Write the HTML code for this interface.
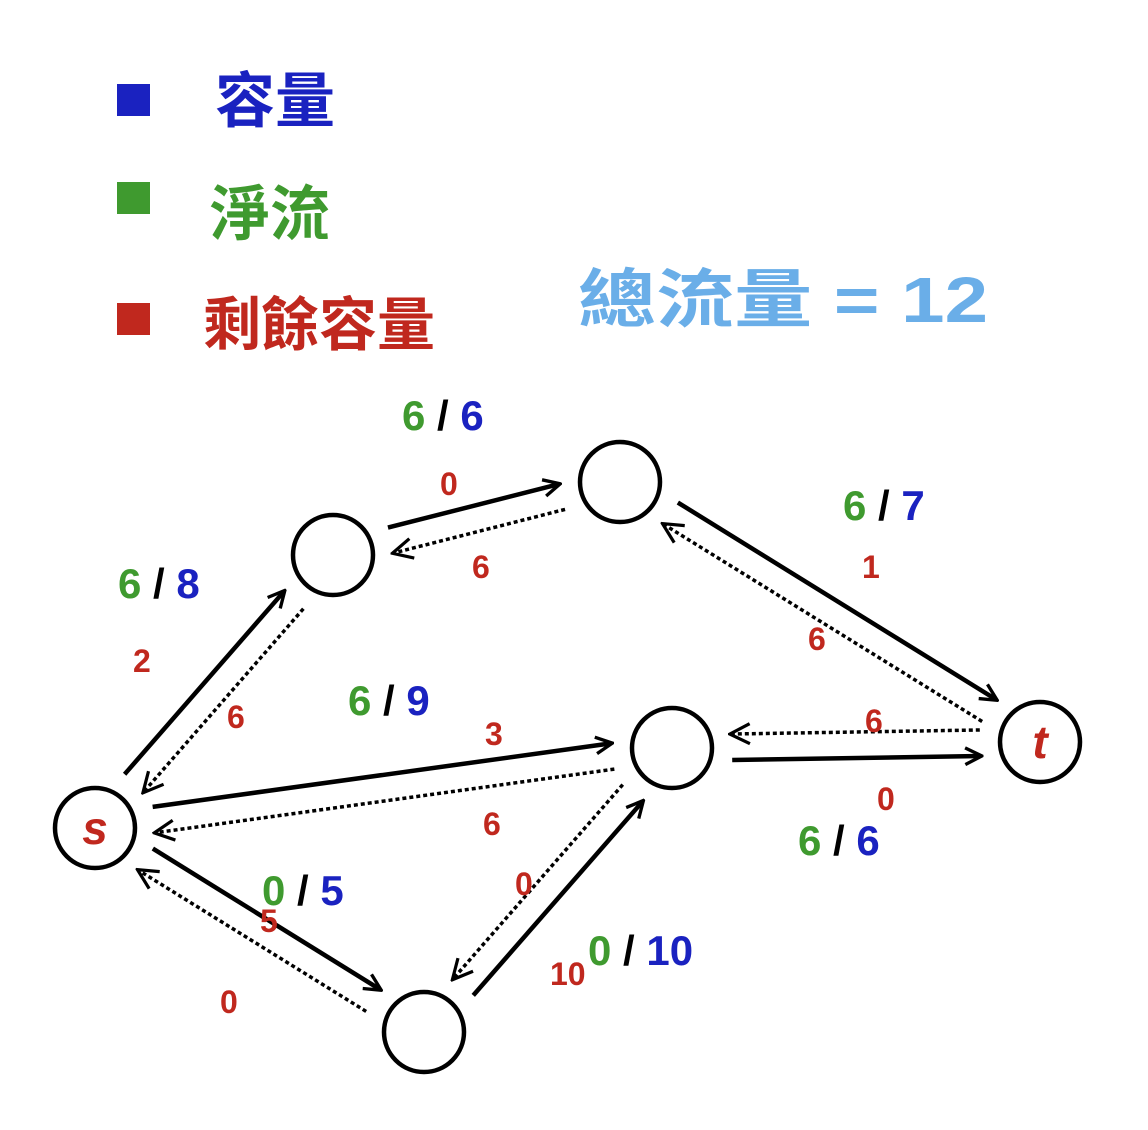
<!DOCTYPE html>
<html><head><meta charset="utf-8"><style>
html,body{margin:0;padding:0;background:#fff;width:1148px;height:1130px;overflow:hidden}
svg text{font-family:"Liberation Sans","Noto Sans CJK TC",sans-serif;font-weight:bold}
</style></head><body>
<svg id="chart" width="1148" height="1130" viewBox="0 0 1148 1130">
<defs>
<marker id="ah" viewBox="0 0 12 12" refX="10" refY="6" markerWidth="20" markerHeight="20" markerUnits="userSpaceOnUse" orient="auto"><path d="M1,1 L11,6 L1,11" fill="none" stroke="#000" stroke-width="2"/></marker>
<marker id="ahs" viewBox="0 0 12 12" refX="10" refY="6" markerWidth="24" markerHeight="24" markerUnits="userSpaceOnUse" orient="auto"><path d="M1,1 L11,6 L1,11" fill="none" stroke="#000" stroke-width="1.6"/></marker>
</defs>
<g>
<rect x="117" y="84" width="33" height="32" fill="#1a22c0"/>
<text x="215" y="122" font-size="60" fill="#1a22c0">容量</text>
<rect x="117" y="182" width="33" height="32" fill="#3f9a2f"/>
<text x="210" y="235" font-size="60" fill="#3f9a2f">淨流</text>
<rect x="117" y="303" width="33" height="32" fill="#c0281e"/>
<text x="203" y="345" font-size="58" fill="#c0281e">剩餘容量</text>
</g>
<text x="578" y="322" font-size="64" fill="#6aaee8" textLength="410" lengthAdjust="spacingAndGlyphs">總流量 = 12</text>
<g id="edges"></g>
<g id="nodes"></g>
<g id="labels"></g>
<script>
const nodeIds=["s","a","b","c","t","d"];
const edgeFrom=["s","a","b","s","c","s","d"];
const edgeTo=["a","b","t","c","t","d","c"];
const edgeFlow=[6,6,6,6,6,0,0];
const edgeCap=[8,6,7,9,6,5,10];
const NS="http://www.w3.org/2000/svg";
const pos={s:[95,828],a:[333,555],b:[620,482],c:[672,748],t:[1040,742],d:[424,1032]};
const R=40;
// layout-only: side of solid line and label anchor positions
const side=[1,1,1,1,-1,1,-1];
const labPos=[[118,598],[402,430],[843,520],[348,715],[798,855],[262,905],[588,965]];
const fwdPos=[[133,672],[440,495],[862,578],[485,745],[877,810],[260,932],[550,985]];
const bwdPos=[[227,728],[472,578],[808,650],[483,835],[865,732],[220,1013],[515,895]];
const eg=document.getElementById('edges'),ng=document.getElementById('nodes'),lg=document.getElementById('labels');
function mk(tag,attrs,parent){const e=document.createElementNS(NS,tag);for(const k in attrs)e.setAttribute(k,attrs[k]);parent.appendChild(e);return e;}
edgeFrom.forEach((f,i)=>{
 const [x1,y1]=pos[f],[x2,y2]=pos[edgeTo[i]];
 const dx=x2-x1,dy=y2-y1,L=Math.hypot(dx,dy),ux=dx/L,uy=dy/L,nx=-uy,ny=ux;
 const g=R+20,off=13*side[i];
 const sl=mk('line',{x1:x1+ux*g-nx*off,y1:y1+uy*g-ny*off,x2:x2-ux*g-nx*off,y2:y2-uy*g-ny*off,stroke:'#000','stroke-width':4.5,'marker-end':'url(#ah)'},eg);
 
 
 const dl=mk('line',{x1:x2-ux*g+nx*off,y1:y2-uy*g+ny*off,x2:x1+ux*g+nx*off,y2:y1+uy*g+ny*off,stroke:'#000','stroke-width':3.5,'stroke-dasharray':'4 3','marker-end':'url(#ahs)'},eg);
 
 
 const [lx,ly]=labPos[i];
 const t=mk('text',{x:lx,y:ly,'font-size':42},lg);
 
 
 const a=mk('tspan',{fill:'#3f9a2f'},t);a.textContent=edgeFlow[i];
 const b=mk('tspan',{fill:'#000'},t);b.textContent=' / ';
 const c=mk('tspan',{fill:'#1a22c0'},t);c.textContent=edgeCap[i];
 const r1=mk('text',{x:fwdPos[i][0],y:fwdPos[i][1],'font-size':32,fill:'#c0281e'},lg);
 r1.textContent=edgeCap[i]-edgeFlow[i];
 
 
 const r2=mk('text',{x:bwdPos[i][0],y:bwdPos[i][1],'font-size':32,fill:'#c0281e'},lg);
 r2.textContent=edgeFlow[i];
 
 
});
nodeIds.forEach(id=>{
 const [x,y]=pos[id];
 const c=mk('circle',{cx:x,cy:y,r:R,fill:'#fff',stroke:'#000','stroke-width':4.5},ng);
 
 
 if(id==='s'||id==='t'){
  const t=mk('text',{x:x,y:y+16,'font-size':46,fill:'#c0281e','text-anchor':'middle','font-style':'italic'},ng);
  t.textContent=id;
  
  
 }
});
</script>
</svg>
</body></html>
